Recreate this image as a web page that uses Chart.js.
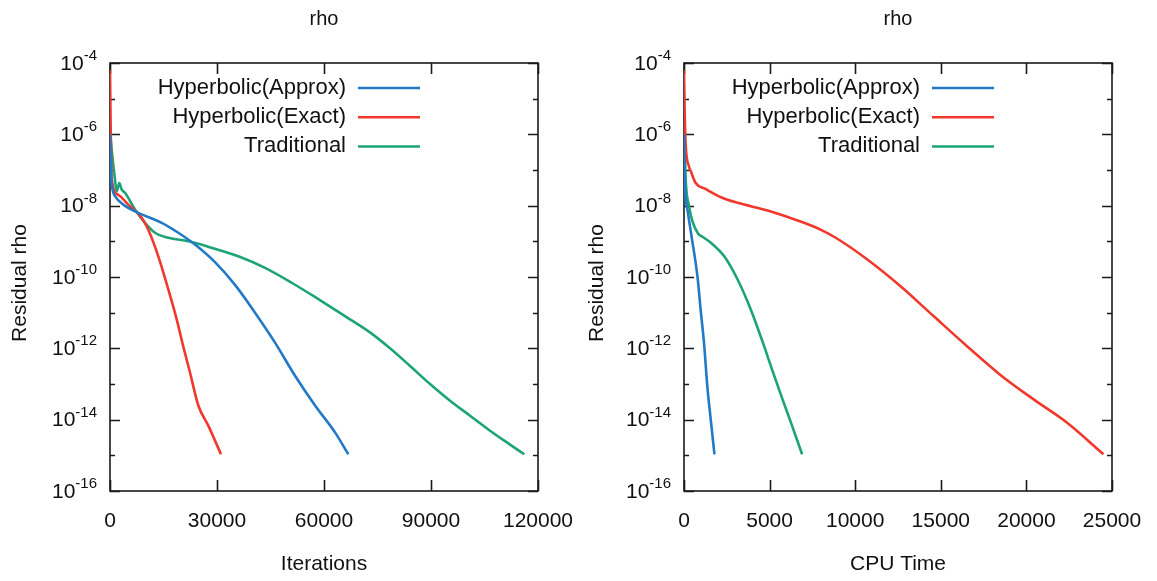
<!DOCTYPE html>
<html><head><meta charset="utf-8">
<script src="https://cdn.jsdelivr.net/npm/chart.js@4.4.1/dist/chart.umd.min.js"></script>
<style>
html,body{margin:0;padding:0;background:#fff;}
#wrap{position:relative;width:1157px;height:581px;overflow:hidden;}
canvas{position:absolute;top:0;}
#c1{left:0;} #c2{left:578px;}
</style></head><body>
<div id="wrap"><canvas id="c1" width="578" height="581"></canvas><canvas id="c2" width="579" height="581"></canvas></div>
<script>
// ---------- data ----------
const seriesNames = ['Hyperbolic(Approx)', 'Hyperbolic(Exact)', 'Traditional'];
const seriesColors = ['rgb(34,122,198)', 'rgb(240,56,44)', 'rgb(28,164,118)'];

const panelTitle = 'rho';
const yAxisTitle = 'Residual rho';

// left panel: residual vs iterations
const iterApproxX = [0, 400, 1500, 3730, 7940, 14500, 19150, 23830, 29440, 35050, 40660, 46270, 51880, 57490, 63090, 66820];
const iterApproxY = [1.0e-6, 5.0e-8, 1.8e-8, 1.07e-8, 6.3e-9, 3.3e-9, 1.74e-9, 8.1e-10, 2.6e-10, 6.0e-11, 1.0e-11, 1.45e-12, 1.7e-13, 2.5e-14, 4.4e-15, 1.07e-15];

const iterExactX = [0, 150, 300, 477, 2330, 5130, 8890, 10740, 13540, 16350, 18700, 20550, 22430, 24760, 27560, 31120];
const iterExactY = [6.3e-5, 3.2e-6, 2.5e-7, 5.4e-8, 2.0e-8, 1.07e-8, 4.6e-9, 2.1e-9, 3.8e-10, 4.5e-11, 6.5e-12, 1.12e-12, 2.1e-13, 2.5e-14, 6.8e-15, 1.07e-15];

const iterTradX = [0, 470, 1400, 1870, 2600, 3300, 4200, 7010, 9810, 12620, 16350, 21960, 28500, 35980, 43460, 50940, 58410, 66000, 72900, 78510, 84120, 89730, 95340, 100940, 106550, 112160, 116170];
const iterTradY = [1.26e-6, 3.7e-7, 5.4e-8, 2.5e-8, 4.3e-8, 2.8e-8, 2.3e-8, 7.8e-9, 3.3e-9, 1.74e-9, 1.26e-9, 1.0e-9, 6.6e-10, 3.8e-10, 1.8e-10, 6.9e-11, 2.4e-11, 7.9e-12, 2.8e-12, 1.0e-12, 3.2e-13, 1.0e-13, 3.4e-14, 1.29e-14, 4.9e-15, 2.0e-15, 1.07e-15];

// right panel: residual vs CPU time
const cpuApproxX = [0, 58, 190, 420, 790, 970, 1170, 1360, 1560, 1780];
const cpuApproxY = [1.0e-6, 3.5e-8, 8.5e-9, 1.6e-9, 1.0e-10, 1.23e-11, 1.4e-12, 8.9e-14, 1.02e-14, 1.07e-15];

const cpuExactX = [0, 40, 100, 290, 410, 680, 1220, 2230, 3130, 5070, 7010, 8000, 8860, 10710, 12650, 14590, 16530, 18480, 20420, 22360, 24500];
const cpuExactY = [6.3e-5, 4.0e-6, 5.0e-7, 1.26e-7, 8.9e-8, 4.3e-8, 3.0e-8, 1.66e-8, 1.2e-8, 6.9e-9, 3.3e-9, 2.1e-9, 1.26e-9, 3.1e-10, 5.5e-11, 7.9e-12, 1.15e-12, 1.8e-13, 3.7e-14, 8.3e-15, 1.07e-15];

const cpuTradX = [0, 100, 290, 500, 820, 1100, 1570, 2350, 3130, 3900, 4680, 5150, 5730, 6310, 6900];
const cpuTradY = [2.5e-6, 5.4e-8, 1.0e-8, 3.55e-9, 1.66e-9, 1.32e-9, 9.1e-10, 3.8e-10, 8.5e-11, 1.23e-11, 1.15e-12, 2.5e-13, 4.0e-14, 6.8e-15, 1.07e-15];

// axes
const yMin = 1e-16, yMax = 1e-4;
const yTickExponents = [-16, -15, -14, -13, -12, -11, -10, -9, -8, -7, -6, -5, -4];
const yLabelExponents = ['-16', '-14', '-12', '-10', '-8', '-6', '-4'];

const iterTicks = [0, 30000, 60000, 90000, 120000];
const iterTickLabels = ['0', '30000', '60000', '90000', '120000'];
const cpuTicks = [0, 5000, 10000, 15000, 20000, 25000];
const cpuTickLabels = ['0', '5000', '10000', '15000', '20000', '25000'];

// ---------- helpers ----------
const FONT = '"Liberation Sans", Arial, Helvetica, sans-serif';
function pts(xs, ys) { return xs.map((x, i) => ({ x: x, y: ys[i] })); }

function decor(o) {
  return {
    id: 'decor',
    beforeDatasetsDraw(chart) {
      const { ctx, chartArea: a, scales: { x, y } } = chart;
      ctx.save();
      ctx.strokeStyle = '#1a1a1a';
      ctx.lineWidth = 1.6;
      ctx.strokeRect(a.left, a.top, a.right - a.left, a.bottom - a.top);
      ctx.beginPath();
      o.xTicks.forEach(v => {
        const px = Math.round(x.getPixelForValue(v)) + 0.5;
        ctx.moveTo(px, a.bottom); ctx.lineTo(px, a.bottom - 11);
        ctx.moveTo(px, a.top); ctx.lineTo(px, a.top + 11);
      });
      yTickExponents.forEach(e => {
        const py = Math.round(y.getPixelForValue(Math.pow(10, e))) + 0.5;
        const len = (e % 2 === 0) ? 10 : 5;
        ctx.moveTo(a.left, py); ctx.lineTo(a.left + len, py);
        ctx.moveTo(a.right, py); ctx.lineTo(a.right - len, py);
      });
      ctx.stroke();
      ctx.restore();
    },
    afterDraw(chart) {
      const { ctx, chartArea: a, scales: { x, y } } = chart;
      ctx.save();
      ctx.fillStyle = '#111';
      // title
      ctx.font = '20px ' + FONT;
      ctx.textAlign = 'center'; ctx.textBaseline = 'middle';
      ctx.fillText(panelTitle, (a.left + a.right) / 2, 19);
      // x tick labels
      ctx.font = '21px ' + FONT;
      o.xTicks.forEach((v, i) => {
        ctx.fillText(o.xLabels[i], x.getPixelForValue(v), a.bottom + 30);
      });
      // x title
      ctx.fillText(o.xTitle, (a.left + a.right) / 2, a.bottom + 73);
      // y title
      ctx.save();
      ctx.translate(o.yTitleX, (a.top + a.bottom) / 2 + 6);
      ctx.rotate(-Math.PI / 2);
      ctx.fillText(yAxisTitle, 0, 0);
      ctx.restore();
      // y tick labels 10^n
      yLabelExponents.forEach(ex => {
        const py = y.getPixelForValue(Math.pow(10, Number(ex)));
        const rx = a.left - 13;
        ctx.font = '15px ' + FONT;
        const ws = ctx.measureText(ex).width;
        ctx.textAlign = 'left';
        ctx.fillText(ex, rx - ws, py - 7);
        ctx.font = '21px ' + FONT;
        ctx.textAlign = 'right';
        ctx.fillText('10', rx - ws, py + 1);
      });
      // legend
      ctx.font = '22px ' + FONT;
      ctx.textAlign = 'right';
      const lineEnd = a.right - 118, lineStart = lineEnd - 62;
      chart.data.datasets.forEach((ds, i) => {
        const ly = a.top + 25 + i * 29.2;
        ctx.fillStyle = '#111';
        ctx.fillText(ds.label, lineStart - 12, ly);
        ctx.strokeStyle = ds.borderColor;
        ctx.lineWidth = 2.5;
        ctx.beginPath(); ctx.moveTo(lineStart, ly); ctx.lineTo(lineEnd, ly); ctx.stroke();
      });
      ctx.restore();
    }
  };
}

function makeChart(id, data, xMax, pad, o) {
  const datasets = data.map((d, i) => ({
    label: seriesNames[i],
    data: d,
    borderColor: seriesColors[i],
    backgroundColor: seriesColors[i],
    borderWidth: 2.6,
    pointRadius: 0,
    cubicInterpolationMode: 'monotone',
    fill: false
  }));
  return new Chart(document.getElementById(id), {
    type: 'line',
    data: { datasets: datasets },
    options: {
      responsive: false,
      animation: false,
      devicePixelRatio: 1,
      layout: { padding: pad },
      plugins: { legend: { display: false }, title: { display: false }, tooltip: { enabled: false } },
      scales: {
        x: { type: 'linear', min: 0, max: xMax, display: false },
        y: { type: 'logarithmic', min: yMin, max: yMax, display: false }
      }
    },
    plugins: [decor(o)]
  });
}

makeChart('c1',
  [pts(iterApproxX, iterApproxY), pts(iterExactX, iterExactY), pts(iterTradX, iterTradY)],
  120000,
  { left: 110, right: 40, top: 63, bottom: 90 },
  { xTicks: iterTicks, xLabels: iterTickLabels, xTitle: 'Iterations', yTitleX: 20 });

makeChart('c2',
  [pts(cpuApproxX, cpuApproxY), pts(cpuExactX, cpuExactY), pts(cpuTradX, cpuTradY)],
  25000,
  { left: 106, right: 45, top: 63, bottom: 90 },
  { xTicks: cpuTicks, xLabels: cpuTickLabels, xTitle: 'CPU Time', yTitleX: 19 });
</script>
</body></html>
